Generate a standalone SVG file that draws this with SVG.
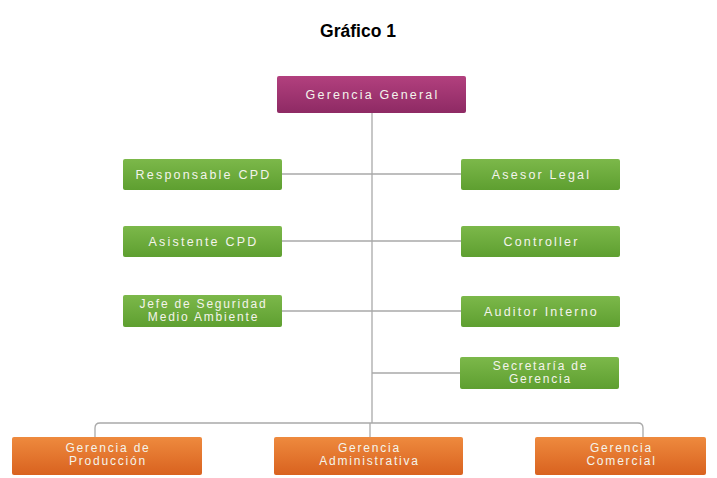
<svg xmlns="http://www.w3.org/2000/svg" width="717" height="478" viewBox="0 0 717 478">
<defs>
<linearGradient id="gp" x1="0" y1="0" x2="0" y2="1"><stop offset="0" stop-color="#b2407e"/><stop offset="1" stop-color="#8e2a64"/></linearGradient>
<linearGradient id="gg" x1="0" y1="0" x2="0" y2="1"><stop offset="0" stop-color="#7cb84a"/><stop offset="1" stop-color="#5e9f30"/></linearGradient>
<linearGradient id="go" x1="0" y1="0" x2="0" y2="1"><stop offset="0" stop-color="#ee8a3e"/><stop offset="1" stop-color="#d9621f"/></linearGradient>
</defs>
<style>
.t{font-family:"Liberation Sans",Arial,sans-serif;font-size:12.5px;fill:#f4f4ec;text-anchor:middle;letter-spacing:2.2px}
.t2{font-family:"Liberation Sans",Arial,sans-serif;font-size:12px;fill:#f4f4ec;text-anchor:middle;letter-spacing:1.8px}
.c{fill:none;stroke:#a9a9a9;stroke-width:1.3}
.p{fill:url(#gp)}
.g{fill:url(#gg)}
.o{fill:url(#go)}
</style>
<rect width="717" height="478" fill="#ffffff"/>
<text x="358" y="37" font-family="'Liberation Sans',Arial,sans-serif" font-size="17.5" font-weight="bold" text-anchor="middle" fill="#000">Gráfico 1</text>
<g id="connectors">
<path class="c" d="M372 113 V423"/>
<path class="c" d="M282 174 H461"/>
<path class="c" d="M282 241 H461"/>
<path class="c" d="M282 311 H461"/>
<path class="c" d="M372 373 H460"/>
<path class="c" d="M95 437 V428 Q95 423 100 423 H638 Q643 423 643 428 V437"/>
<path class="c" d="M370 423 V437"/>
</g>
<g id="gerencia-general"><rect class="p" x="277" y="76" width="189" height="37" rx="2"/><text class="t" x="372.5" y="99">Gerencia General</text></g>
<g id="responsable-cpd"><rect class="g" x="123" y="159" width="159" height="31" rx="2"/><text class="t" x="203.5" y="179">Responsable CPD</text></g>
<g id="asistente-cpd"><rect class="g" x="123" y="226" width="159" height="31" rx="2"/><text class="t" x="203.5" y="246">Asistente CPD</text></g>
<g id="jefe-seguridad"><rect class="g" x="123" y="295" width="159" height="32" rx="2"/><text class="t2" x="203.5" y="308">Jefe de Seguridad</text><text class="t2" x="203.5" y="321">Medio Ambiente</text></g>
<g id="asesor-legal"><rect class="g" x="461" y="159" width="159" height="31" rx="2"/><text class="t" x="541.5" y="179">Asesor Legal</text></g>
<g id="controller"><rect class="g" x="461" y="226" width="159" height="31" rx="2"/><text class="t" x="541.5" y="246">Controller</text></g>
<g id="auditor-interno"><rect class="g" x="461" y="296" width="159" height="31" rx="2"/><text class="t" x="541.5" y="316">Auditor Interno</text></g>
<g id="secretaria"><rect class="g" x="460" y="357" width="159" height="32" rx="2"/><text class="t2" x="540.5" y="370">Secretaría de</text><text class="t2" x="540.5" y="383">Gerencia</text></g>
<g id="gerencia-produccion"><rect class="o" x="12" y="437" width="190" height="38" rx="2"/><text class="t2" x="108" y="452">Gerencia de</text><text class="t2" x="108" y="465">Producción</text></g>
<g id="gerencia-administrativa"><rect class="o" x="274" y="437" width="189" height="38" rx="2"/><text class="t2" x="369.5" y="452">Gerencia</text><text class="t2" x="369.5" y="465">Administrativa</text></g>
<g id="gerencia-comercial"><rect class="o" x="535" y="437" width="171" height="38" rx="2"/><text class="t2" x="621.5" y="452">Gerencia</text><text class="t2" x="621.5" y="465">Comercial</text></g>
</svg>
